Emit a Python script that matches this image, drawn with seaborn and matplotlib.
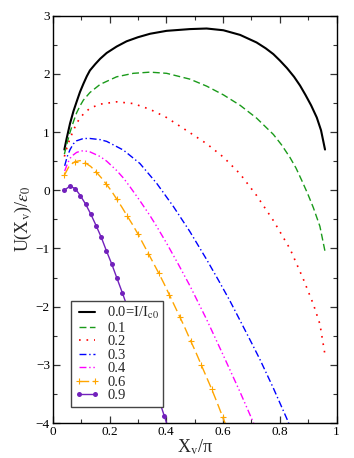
import matplotlib
matplotlib.use('Agg')
import matplotlib.pyplot as plt
from matplotlib.ticker import MultipleLocator
import seaborn as sns

# Potential curves U(X_v)/eps_0 for several currents I/I_c0
x_i00 = [0.041, 0.049, 0.061, 0.073, 0.084, 0.096, 0.108, 0.120, 0.131, 0.150, 0.167, 0.190,
         0.225, 0.260, 0.300, 0.343, 0.401, 0.483, 0.542, 0.601, 0.660, 0.718, 0.750,
         0.777, 0.800, 0.825, 0.850, 0.871, 0.890, 0.910, 0.930, 0.945, 0.959]
u_i00 = [0.70, 0.89, 1.15, 1.36, 1.52, 1.69, 1.83, 1.96, 2.06, 2.17, 2.26, 2.36,
         2.47, 2.56, 2.63, 2.69, 2.74, 2.77, 2.78, 2.75, 2.67, 2.54, 2.44,
         2.34, 2.23, 2.10, 1.95, 1.80, 1.64, 1.46, 1.25, 1.03, 0.70]

x_i01 = [0.041, 0.051, 0.061, 0.073, 0.084, 0.096, 0.108, 0.131, 0.167, 0.225, 0.284, 0.343,
         0.401, 0.483, 0.542, 0.601, 0.660, 0.718, 0.777, 0.806, 0.836, 0.857, 0.877, 0.898,
         0.918, 0.941, 0.959]
u_i01 = [0.62, 0.82, 1.00, 1.18, 1.33, 1.45, 1.55, 1.68, 1.82, 1.95, 2.01, 2.03,
         2.01, 1.91, 1.79, 1.64, 1.46, 1.24, 0.96, 0.78, 0.56, 0.38, 0.17, -0.06,
         -0.30, -0.62, -1.05]

x_i02 = [0.041, 0.051, 0.061, 0.073, 0.084, 0.096, 0.108, 0.131, 0.167, 0.225, 0.284, 0.343,
         0.401, 0.483, 0.542, 0.601, 0.660, 0.718, 0.777, 0.836, 0.882, 0.918, 0.941, 0.958]
u_i02 = [0.58, 0.75, 0.89, 1.03, 1.15, 1.24, 1.31, 1.41, 1.48, 1.52, 1.49, 1.39,
         1.25, 0.99, 0.80, 0.57, 0.28, -0.09, -0.52, -1.01, -1.52, -1.96, -2.30, -2.80]

x_i03 = [0.042, 0.051, 0.061, 0.073, 0.084, 0.108, 0.131, 0.167, 0.190, 0.249, 0.307, 0.366,
         0.425, 0.483, 0.542, 0.583, 0.624, 0.660, 0.700, 0.730, 0.777, 0.824, 0.835]
u_i03 = [0.42, 0.58, 0.70, 0.80, 0.85, 0.89, 0.89, 0.87, 0.84, 0.69, 0.46, 0.12,
         -0.28, -0.71, -1.19, -1.54, -1.90, -2.24, -2.62, -2.91, -3.40, -3.92, -4.05]

x_i04 = [0.042, 0.052, 0.061, 0.073, 0.084, 0.096, 0.108, 0.131, 0.167, 0.190, 0.225, 0.249,
         0.272, 0.307, 0.343, 0.366, 0.401, 0.441, 0.483, 0.542, 0.601, 0.660, 0.710]
u_i04 = [0.33, 0.46, 0.55, 0.61, 0.65, 0.67, 0.68, 0.66, 0.58, 0.50, 0.34, 0.21,
         0.06, -0.18, -0.44, -0.62, -0.91, -1.26, -1.64, -2.22, -2.84, -3.47, -4.03]

x_i06 = [0.041, 0.0595, 0.078, 0.0965, 0.115, 0.1335, 0.152, 0.170, 0.188, 0.2065, 0.225,
         0.2435, 0.262, 0.281, 0.300, 0.3185, 0.337, 0.3555, 0.374, 0.3925, 0.411, 0.4295,
         0.448, 0.467, 0.486, 0.5045, 0.523, 0.5415, 0.560, 0.579, 0.598, 0.6165]
u_i06 = [0.26, 0.43, 0.49, 0.51, 0.47, 0.41, 0.32, 0.22, 0.11, -0.01, -0.15,
         -0.29, -0.44, -0.59, -0.75, -0.92, -1.09, -1.26, -1.43, -1.61, -1.80, -1.99,
         -2.18, -2.38, -2.59, -2.79, -3.00, -3.21, -3.42, -3.65, -3.89, -4.12]

x_i09 = [0.041, 0.060, 0.079, 0.097, 0.116, 0.134, 0.153, 0.171, 0.189, 0.208, 0.226,
         0.245, 0.263, 0.282, 0.300, 0.319, 0.337, 0.356, 0.374, 0.393, 0.411]
u_i09 = [0.00, 0.07, 0.03, -0.09, -0.24, -0.41, -0.61, -0.81, -1.04, -1.27, -1.51,
         -1.76, -2.01, -2.27, -2.53, -2.79, -3.06, -3.33, -3.60, -3.88, -4.15]

labels = ['0.0=I/I$_\\mathrm{c0}$', '0.1', '0.2', '0.3', '0.4', '0.6', '0.9']

sns.set_style('ticks')
plt.rcParams['font.family'] = ['Liberation Serif', 'DejaVu Serif']
plt.rcParams['mathtext.fontset'] = 'stix'

fig = plt.figure(figsize=(3.54, 4.58), dpi=100)
ax = fig.add_axes([0.149, 0.0764, 0.802, 0.8893])

common = dict(sort=False, estimator=None, ax=ax)
sns.lineplot(x=x_i00, y=u_i00, color='black', lw=1.5, label=labels[0], **common)
sns.lineplot(x=x_i01, y=u_i01, color='#1a9a1a', lw=1.0, linestyle=(0, (5, 2.5)), label=labels[1], **common)
sns.lineplot(x=x_i02, y=u_i02, color='red', lw=1.2, linestyle=(0, (1, 3.5)), label=labels[2], **common)
sns.lineplot(x=x_i03, y=u_i03, color='blue', lw=1.0, linestyle=(0, (5, 2, 1, 2)), label=labels[3], **common)
sns.lineplot(x=x_i04, y=u_i04, color='#ff00ff', lw=1.0, linestyle=(0, (5, 2, 1, 2, 1, 2)), label=labels[4], **common)
sns.lineplot(x=x_i06, y=u_i06, color='orange', lw=1.0, linestyle=(0, (7, 3)), marker='+',
             markersize=4.5, markeredgewidth=0.8, markeredgecolor='orange', markevery=2,
             label=labels[5], **common)
sns.lineplot(x=x_i09, y=u_i09, color='#7221bc', lw=1.0, marker='o', markersize=3.6,
             markeredgewidth=0, label=labels[6], **common)

ax.set_xlim(0, 1)
ax.set_ylim(-4, 3)
ax.xaxis.set_major_locator(MultipleLocator(0.2))
ax.xaxis.set_minor_locator(MultipleLocator(0.1))
ax.yaxis.set_major_locator(MultipleLocator(1))
ax.yaxis.set_minor_locator(MultipleLocator(0.5))
ax.set_xticks([0, 0.2, 0.4, 0.6, 0.8, 1.0])
ax.set_xticklabels(['0', '0.2', '0.4', '0.6', '0.8', '1'])
ax.tick_params(which='both', direction='in', top=True, right=True, labelsize=9.5,
               colors='#333333', labelcolor='black')
ax.tick_params(which='major', length=5, width=0.9, pad=2)
ax.tick_params(which='minor', length=3, width=0.8)
for sp in ax.spines.values():
    sp.set_linewidth(1.0)
    sp.set_color('black')

ax.set_xlabel('X$_\\mathrm{v}$/π', fontsize=13, labelpad=0)
ax.set_ylabel('U(X$_\\mathrm{v}$)/$\\varepsilon_0$', fontsize=13, labelpad=1)

leg = ax.legend(loc='lower left', bbox_to_anchor=(0.063, 0.040), borderaxespad=0,
                fontsize=10.5, numpoints=2, handlelength=1.7, handletextpad=0.5,
                labelspacing=0.02, borderpad=0.3, fancybox=False, framealpha=1)
leg.get_frame().set_edgecolor('#444444')
leg.get_frame().set_linewidth(1.0)

fig.savefig('out.png', dpi=100)
